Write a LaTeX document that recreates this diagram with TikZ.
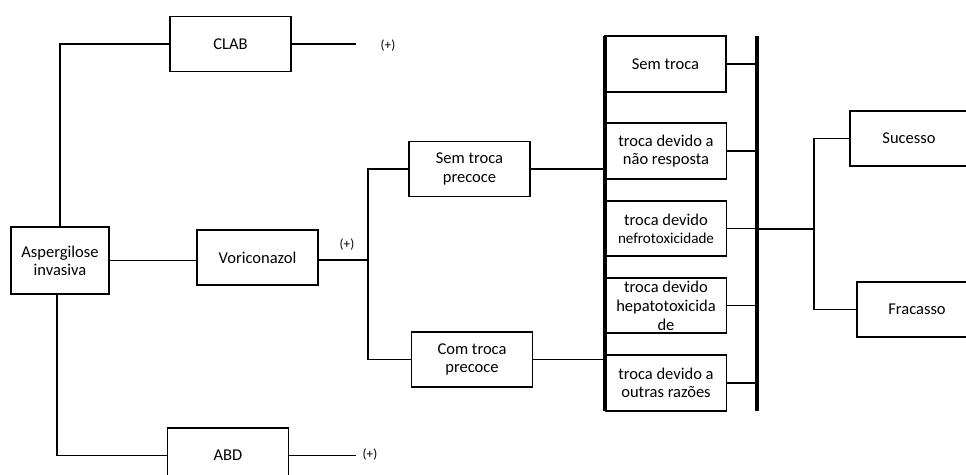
\documentclass[tikz,border=0pt]{standalone}
\usepackage{fontspec}
\setmainfont{Carlito}

\begin{document}
\begin{tikzpicture}[x=0.02cm,y=-0.02cm,
    caixa/.style={draw,line width=0.6pt,minimum width=2.42cm,minimum height=1.1cm,
        align=center,inner sep=1pt,font=\fontsize{9.4}{10.4}\selectfont},
    mais/.style={inner sep=0pt,font=\fontsize{7.5}{9}\selectfont},
    liga/.style={line width=0.6pt},
    barra/.style={line width=1.8pt}]
    \useasboundingbox (0,0) rectangle (966,475);
    % left part
    \node[caixa,minimum width=1.96cm,minimum height=1.34cm] (asp) at (60,260.5) {Aspergilose\\invasiva};
    \node[caixa] (clab) at (230.5,44) {CLAB};
    \node[caixa] (vori) at (257.5,257.5) {Voriconazol};
    \node[caixa] (abd) at (228,455.5) {ABD};
    \node[mais] (maisclab) at (388,46) {(+)};
    \node[mais] (maisabd) at (370,455) {(+)};
    \node[mais] (maisvori) at (347,245) {(+)};
    \coordinate (fimclab) at (356,44);
    \coordinate (fimabd) at (356,455.5);
    \coordinate (ramo) at (368,260);
    % middle part
    \node[caixa] (semp) at (469.5,169) {Sem troca\\precoce};
    \node[caixa] (comp) at (472,359.5) {Com troca\\precoce};
    \coordinate (b1a) at (605,36);
    \coordinate (b1b) at (605,411);
    \coordinate (b2a) at (757,36);
    \coordinate (b2b) at (757,411);
    \node[caixa,minimum height=1.12cm] (semtroca) at (665.5,64) {Sem troca};
    \node[caixa,minimum height=1.12cm] (naoresp) at (666,151) {troca devido a\\não resposta};
    \node[caixa] (nefro) at (666,228.5) {troca devido\\{\fontsize{8.6}{10.4}\selectfont nefrotoxicidade}};
    \node[caixa,inner ysep=0pt,font=\fontsize{9.4}{10.9}\selectfont] (hepato) at (666,305.5) {troca devido\\hepatotoxicida\\de};
    \node[caixa,minimum height=1.12cm] (outras) at (666,383) {troca devido a\\outras razões};
    % right part
    \coordinate (saida) at (814,229);
    \node[caixa,minimum width=2.36cm] (suc) at (909,138.5) {Sucesso};
    \node[caixa,minimum width=2.4cm] (frac) at (917,309.5) {Fracasso};

    \draw[liga] (clab.west) -| (asp.north);
    \draw[liga] (asp.east) -- (asp.east -| vori.west);
    \draw[liga] ([xshift=-0.06cm]asp.south) |- (abd.west);
    \draw[liga] (clab.east) -- (fimclab);
    \draw[liga] (abd.east) -- (fimabd);
    \draw[liga] (vori.east |- ramo) -- (ramo);
    \draw[liga] (semp.west) -| (ramo) |- (comp.west);
    \draw[liga] (semp.east) -- (semp.east -| b1a);
    \draw[liga] (comp.east) -- (comp.east -| b1a);
    \foreach \c in {semtroca,naoresp,nefro,hepato,outras}
        \draw[liga] (\c.east) -- (\c.east -| b2a);
    \draw[liga] (b2a |- saida) -- (saida);
    \draw[liga] (suc.west) -| (saida) |- (frac.west);
    \draw[barra] (b1a) -- (b1b);
    \draw[barra] (b2a) -- (b2b);
\end{tikzpicture}
\end{document}
